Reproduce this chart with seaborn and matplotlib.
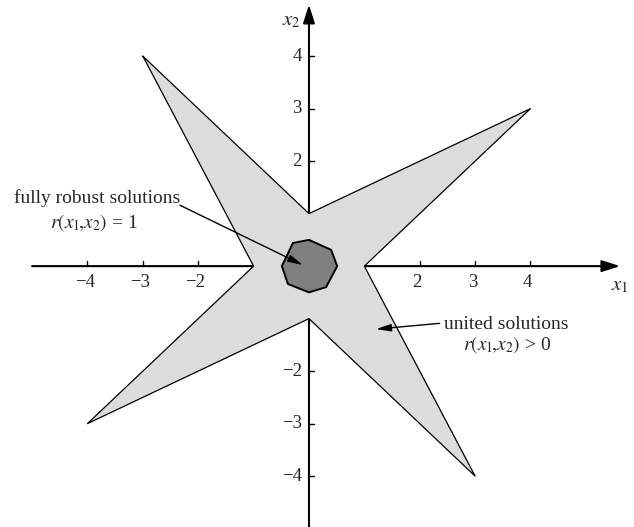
import matplotlib
matplotlib.use("Agg")
import matplotlib.pyplot as plt
import seaborn as sns
import pandas as pd

# Star-shaped region of united solutions (vertices in order)
star_x1 = [-3, 0, 4, 1, 3, 0, -4, -1]
star_x2 = [4, 1, 3, 0, -4, -1, -3, 0]

# Octagon of fully robust solutions
core_x1 = [-0.29, 0.0, 0.40, 0.51, 0.31, 0.0, -0.38, -0.49]
core_x2 = [0.44, 0.50, 0.31, 0.0, -0.40, -0.50, -0.34, 0.0]

# Tick positions and labels
x_ticks = [-4, -3, -2, 2, 3, 4]
x_tick_labels = ["\u22124", "\u22123", "\u22122", "2", "3", "4"]
y_ticks = [4, 3, 2, -2, -3, -4]
y_tick_labels = ["4", "3", "2", "\u22122", "\u22123", "\u22124"]

sns.set_style("white")
plt.rcParams["font.family"] = ["Liberation Serif", "DejaVu Serif"]
plt.rcParams["mathtext.fontset"] = "stix"

fig = plt.figure(figsize=(6.34, 5.27), dpi=100)
ax = fig.add_axes([0, 0, 1, 1])
ax.set_xlim(-5.58, 5.87)
ax.set_ylim(-4.97, 5.07)
ax.axis("off")

def closed(xs, ys):
    return pd.DataFrame({"x1": xs + xs[:1], "x2": ys + ys[:1], "i": range(len(xs) + 1)})

star = closed(star_x1, star_x2)
core = closed(core_x1, core_x2)

# Coordinate axes with arrowheads (underneath the regions)
ax.annotate("", xy=(5.62, 0), xytext=(-5.0, 0),
            arrowprops=dict(arrowstyle="-|>,head_length=1.1,head_width=0.35",
                            color="black", lw=1.5, shrinkA=0, shrinkB=0), zorder=0)
ax.annotate("", xy=(0, 4.98), xytext=(0, -4.97),
            arrowprops=dict(arrowstyle="-|>,head_length=1.1,head_width=0.35",
                            color="black", lw=1.5, shrinkA=0, shrinkB=0), zorder=0)

ax.fill(star_x1, star_x2, color="#dcdcdc", zorder=1, lw=0)
sns.lineplot(data=star, x="x1", y="x2", sort=False, estimator=None,
             color="black", lw=0.9, ax=ax, zorder=2)
ax.fill(core_x1, core_x2, color="#808080", zorder=3, lw=0)
sns.lineplot(data=core, x="x1", y="x2", sort=False, estimator=None,
             color="black", lw=1.4, ax=ax, zorder=4)

# Tick marks and labels
for t, lab in zip(x_ticks, x_tick_labels):
    ax.plot([t, t], [0, 0.1], color="black", lw=1.0, zorder=0)
    ax.text(t - 0.05, -0.15, lab, ha="center", va="top", fontsize=13.5)
for t, lab in zip(y_ticks, y_tick_labels):
    ax.plot([0, 0.09], [t, t], color="black", lw=1.0, zorder=0)
    ax.text(-0.13, t, lab, ha="right", va="center", fontsize=13.5)

ax.text(5.45, -0.38, r"$x_1$", ha="left", va="center", fontsize=15)
ax.text(-0.15, 4.68, r"$x_2$", ha="right", va="center", fontsize=15)

# Annotations
ax.text(-3.83, 1.29, "fully robust solutions", ha="center", va="center", fontsize=14)
ax.text(-3.88, 0.84, r"$r(x_1\!,\!x_2)$ = 1", ha="center", va="center", fontsize=14)
ax.annotate("", xy=(-0.11, 0.02), xytext=(-2.33, 1.16),
            arrowprops=dict(arrowstyle="-|>,head_length=0.9,head_width=0.22",
                            color="black", lw=1.0, shrinkA=0, shrinkB=0), zorder=6)

ax.text(3.57, -1.12, "united solutions", ha="center", va="center", fontsize=14)
ax.text(3.57, -1.50, r"$r(x_1\!,\!x_2)$ > 0", ha="center", va="center", fontsize=14)
ax.annotate("", xy=(1.21, -1.20), xytext=(2.36, -1.09),
            arrowprops=dict(arrowstyle="-|>,head_length=0.9,head_width=0.22",
                            color="black", lw=1.0, shrinkA=0, shrinkB=0), zorder=6)

fig.savefig("out.png", dpi=100)
